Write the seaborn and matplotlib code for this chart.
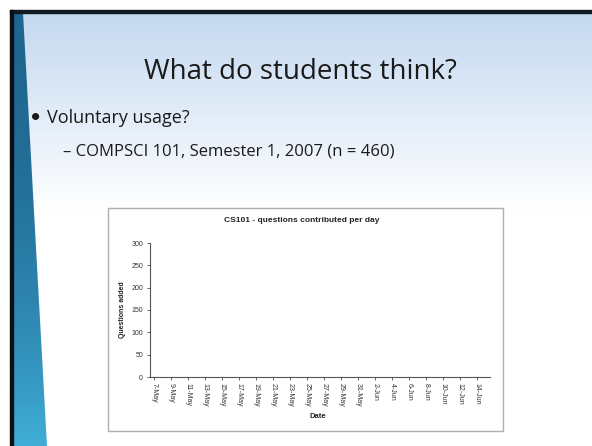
import numpy as np
import pandas as pd
import seaborn as sns
import matplotlib.pyplot as plt
from matplotlib.patches import Polygon, Rectangle

# Data: questions contributed per day (CS101, 7-May to 15-Jun 2007)
dates = pd.date_range("2007-05-07", "2007-06-15", freq="D")
date_labels = [f"{d.day}-{d.strftime('%b')}" for d in dates]
questions = [0] * len(dates)
y_ticks = [0, 50, 100, 150, 200, 250, 300]

df = pd.DataFrame({"Date": date_labels, "Questions": questions})

sns.set_style("white")
plt.rcParams['font.family'] = ['Lato', 'DejaVu Sans']

W, H = 592, 446
fig = plt.figure(figsize=(W / 100, H / 100), dpi=100)
fig.patch.set_facecolor("white")

# Slide background
bg = fig.add_axes([0, 0, 1, 1])
bg.set_xlim(0, W)
bg.set_ylim(H, 0)
bg.axis("off")
grad = np.linspace(0, 1, 200)[:, None]
top_col = np.array([0.77, 0.85, 0.94])
img = top_col * (1 - grad[..., None]) + np.array([1, 1, 1]) * grad[..., None]
img = np.repeat(img, 2, axis=1)
bg.imshow(img, extent=[13, W, 213, 13], aspect="auto", zorder=0)
bg.add_patch(Rectangle((10, 10), W - 10, 3, color="#111820", zorder=2))
bg.add_patch(Rectangle((10, 10), 3, H - 10, color="#0a0f14", zorder=2))
strip = np.linspace(0, 1, 100)[:, None]
c1 = np.array([0.12, 0.40, 0.56])
c2 = np.array([0.25, 0.68, 0.84])
simg = c1 * (1 - strip[..., None] ** 2) + c2 * strip[..., None] ** 2
simg = np.repeat(simg, 2, axis=1)
im = bg.imshow(simg, extent=[13, 47, H, 13], aspect="auto", zorder=1)
im.set_clip_path(Polygon([(13, 13), (23, 13), (47, 446), (13, 446)],
                         transform=bg.transData))
bg.text(300, 72, "What do students think?", fontsize=20, color="#1a1a1a",
        ha="center", va="center", family=["Open Sans", "DejaVu Sans"])
bg.text(30, 118, "•", fontsize=14, color="#1a1a1a", va="center")
bg.text(47, 118, "Voluntary usage?", fontsize=13, color="#1a1a1a", va="center",
        family=["Open Sans", "DejaVu Sans"])
bg.text(63, 152, "– COMPSCI 101, Semester 1, 2007 (n = 460)", fontsize=12,
        color="#1a1a1a", va="center", family=["Open Sans", "DejaVu Sans"])

# Chart frame
bg.add_patch(Rectangle((108, 208), 395, 223, facecolor="white",
                       edgecolor="#b0b0b0", lw=1, zorder=3))
bg.text(302, 220, "CS101 - questions contributed per day", fontsize=6,
        fontweight="bold", ha="center", va="center", zorder=4, color="#222222",
        family=["Liberation Sans", "DejaVu Sans"])
bg.text(123, 310, "Questions added", fontsize=5, fontweight="bold", rotation=90,
        ha="center", va="center", zorder=4, color="#222222",
        family=["Liberation Sans", "DejaVu Sans"])
bg.text(318, 416, "Date", fontsize=5.5, fontweight="bold", ha="center", va="center",
        zorder=4, color="#222222", family=["Liberation Sans", "DejaVu Sans"])

ax = fig.add_axes([150 / W, (H - 377) / H, 340 / W, 134 / H])
ax.set_zorder(5)
sns.barplot(data=df, x="Date", y="Questions", color="#1f2f7a", ax=ax, width=0.6)
ax.set_ylim(0, 300)
ax.set_yticks(y_ticks)
ax.set_xticks(range(0, len(dates), 2))
ax.set_xticklabels(date_labels[::2], rotation=270, fontsize=5, color="#333333",
                   family=["Liberation Sans", "DejaVu Sans"])
ax.tick_params(axis="y", labelsize=5, labelcolor="#333333", length=2, width=0.5,
               pad=3, left=True)
ax.tick_params(axis="x", length=2, width=0.5, pad=2, bottom=True)
for lbl in ax.get_yticklabels():
    lbl.set_family(["Liberation Sans", "DejaVu Sans"])
ax.set_xlabel("")
ax.set_ylabel("")
ax.patch.set_alpha(0)
for s in ["top", "right"]:
    ax.spines[s].set_visible(False)
for s in ["left", "bottom"]:
    ax.spines[s].set_color("#555555")
    ax.spines[s].set_linewidth(0.8)

fig.savefig("out.png", dpi=100)
